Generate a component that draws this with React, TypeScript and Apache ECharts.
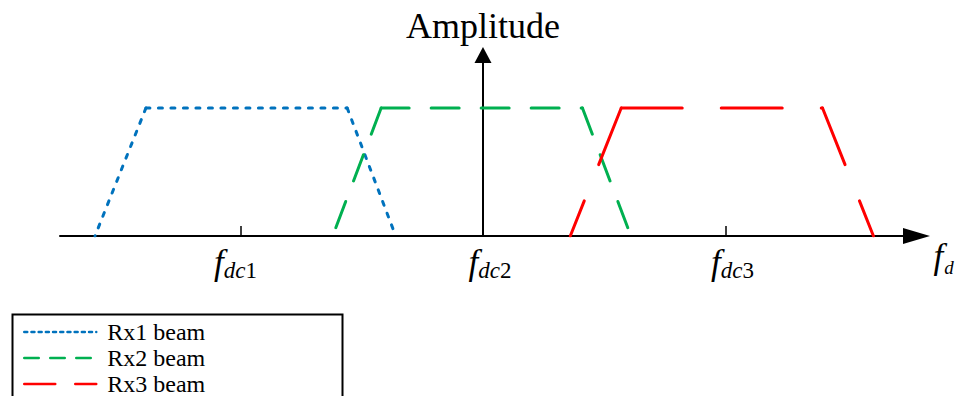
import React, { useEffect, useRef } from "react";
import * as echarts from "echarts";

// Beam names (legend entries)
const beamNames = ["Rx1 beam", "Rx2 beam", "Rx3 beam"];
// Corner frequencies of each trapezoidal beam (units: spacing between f_dc ticks)
const rx1Freq = [-1.6, -1.39, -0.56, -0.36];
const rx2Freq = [-0.62, -0.42, 0.41, 0.61];
const rx3Freq = [0.36, 0.57, 1.4, 1.61];
// Amplitude at each corner
const beamAmp = [0, 1, 1, 0];
// Doppler centre ticks
const tickValues = [-1, 0, 1];
const tickSubs = ["dc1", "dc2", "dc3"];

const beamFreqs = [rx1Freq, rx2Freq, rx3Freq];
const beamColors = ["#0072BD", "#00B050", "#FF0000"];
const beamDash: number[][] = [
  [4, 8.5],
  [28, 22],
  [61, 39],
];
const legendDash: number[][] = [
  [3, 4.2],
  [14.5, 11.5],
  [31, 20],
];

const SERIF = "'Liberation Serif', 'Times New Roman', serif";

export default function App() {
  const ref = useRef<HTMLDivElement>(null);

  useEffect(() => {
    if (!ref.current) return;
    const chart = echarts.init(ref.current, null, { renderer: "svg" });

    // Each beam is drawn as three strokes (rise, top, fall) so every
    // edge starts its own dash pattern from the upper corner.
    const series: any[] = [];
    beamFreqs.forEach((f, b) => {
      const segs = [
        [
          [f[1], beamAmp[1]],
          [f[0], beamAmp[0]],
        ],
        [
          [f[1], beamAmp[1]],
          [f[2], beamAmp[2]],
        ],
        [
          [f[2], beamAmp[2]],
          [f[3], beamAmp[3]],
        ],
      ];
      segs.forEach((d) => {
        series.push({
          type: "line",
          name: beamNames[b],
          data: d,
          symbol: "none",
          silent: true,
          z: 3 + b,
          lineStyle: {
            color: beamColors[b],
            width: 3,
            type: beamDash[b],
            cap: "round",
          },
          itemStyle: { color: beamColors[b] },
        });
      });
    });

    const xMin = -1.7443;
    const xMax = 1.7876;

    chart.setOption({
      animation: false,
      backgroundColor: "#ffffff",
      grid: { left: 60, right: 49.5, top: 55, bottom: 160, containLabel: false },
      xAxis: {
        type: "value",
        min: xMin,
        max: xMax,
        name: "{f|f}{d|d}",
        nameLocation: "end",
        nameGap: 17,
        nameTextStyle: {
          verticalAlign: "top",
          align: "left",
          padding: [3, 0, 0, 0],
          rich: {
            f: { fontFamily: SERIF, fontStyle: "italic", fontSize: 35, lineHeight: 35, color: "#000" },
            d: {
              fontFamily: SERIF,
              fontStyle: "italic",
              fontSize: 19,
              lineHeight: 19,
              padding: [22, 0, 0, 1],
              color: "#000",
            },
          },
        },
        axisLine: {
          onZero: true,
          symbol: ["none", "triangle"],
          symbolSize: [16, 27],
          lineStyle: { color: "#000", width: 2 },
        },
        axisTick: {
          show: true,
          inside: true,
          length: 10,
          customValues: tickValues,
          lineStyle: { color: "#000", width: 1.5 },
        },
        axisLabel: {
          show: true,
          customValues: tickValues,
          margin: 9,
          formatter: (v: number) => {
            const i = tickValues.indexOf(Math.round(v));
            const sub = tickSubs[i] ?? "";
            const pre = i === 0 ? "fa" : "fb";
            const last = i === 0 ? "na" : "n";
            return `{${pre}|f}{s|${sub.slice(0, 2)}}{${last}|${sub.slice(2)}}`;
          },
          rich: {
            fa: { fontFamily: SERIF, fontStyle: "italic", fontSize: 35, lineHeight: 35, color: "#000" },
            fb: {
              fontFamily: SERIF,
              fontStyle: "italic",
              fontSize: 35,
              lineHeight: 35,
              padding: [0, 0, 0, 14],
              color: "#000",
            },
            s: {
              fontFamily: SERIF,
              fontStyle: "italic",
              fontSize: 23,
              lineHeight: 23,
              padding: [16, 0, 0, 0],
              color: "#000",
            },
            n: { fontFamily: SERIF, fontSize: 23, lineHeight: 23, padding: [16, 0, 0, 0], color: "#000" },
            na: { fontFamily: SERIF, fontSize: 23, lineHeight: 23, padding: [16, 10, 0, 0], color: "#000" },
          },
        },
        splitLine: { show: false },
      },
      yAxis: {
        type: "value",
        min: 0,
        max: 1.414,
        name: "Amplitude",
        nameLocation: "end",
        nameGap: 11,
        nameTextStyle: { fontFamily: SERIF, fontSize: 36, lineHeight: 36, color: "#000" },
        axisLine: {
          show: true,
          onZero: true,
          symbol: ["none", "triangle"],
          symbolSize: [17, 16],
          lineStyle: { color: "#000", width: 2 },
        },
        axisTick: { show: false },
        axisLabel: { show: false },
        splitLine: { show: false },
      },
      legend: {
        orient: "vertical",
        left: 23,
        top: 320,
        height: 120,
        padding: 0,
        itemWidth: 72,
        itemHeight: 14,
        itemGap: 2,
        selectedMode: false,
        textStyle: {
          fontFamily: SERIF,
          fontSize: 24,
          lineHeight: 24,
          color: "#000",
          padding: [0, 0, 0, 6],
        },
        data: beamNames.map((n, i) => ({
          name: n,
          itemStyle: { color: "rgba(0,0,0,0)", borderColor: "rgba(0,0,0,0)", borderWidth: 0 },
          lineStyle: { type: legendDash[i], width: 2.5, cap: "round", color: beamColors[i] },
        })),
      },
      graphic: [
        {
          type: "rect",
          left: 10,
          top: 312,
          shape: { width: 330, height: 120 },
          style: { fill: "none", stroke: "#000", lineWidth: 2 },
          silent: true,
          z: 0,
        },
      ],
      series,
    });

    return () => chart.dispose();
  }, []);

  return (
    <div
      ref={ref}
      style={{ position: "fixed", left: 0, top: 0, width: 966, height: 396 }}
    />
  );
}
